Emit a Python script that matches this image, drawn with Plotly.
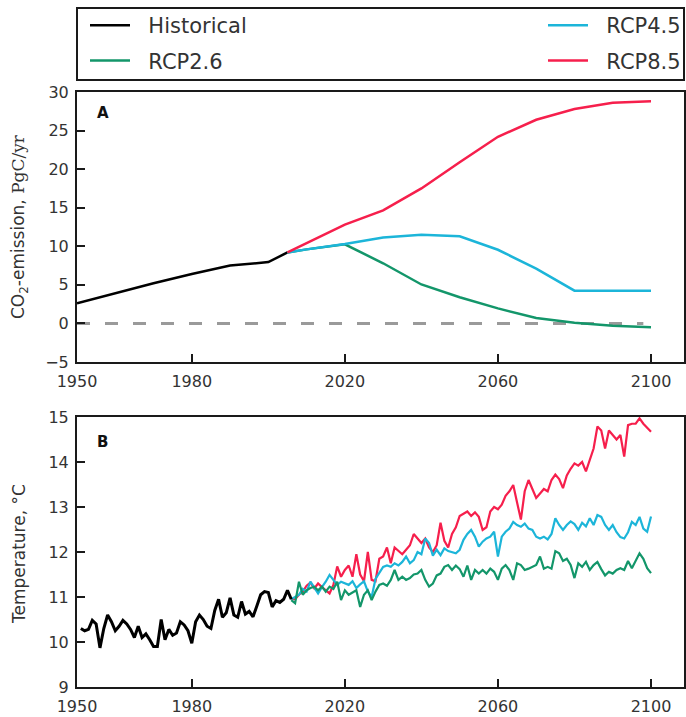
import plotly.graph_objects as go

# ---------------- Data ----------------
# Panel A: CO2 emissions (PgC/yr)
emis_hist_years = [1950, 1960, 1970, 1980, 1990, 2000, 2005]
emis_hist = [2.6, 3.9, 5.2, 6.4, 7.5, 7.95, 9.2]

emis_rcp_years = [2005, 2010, 2020, 2030, 2040, 2050, 2060, 2070, 2080, 2090, 2100]
emis_rcp26 = [9.2, 9.6, 10.25, 7.8, 5.05, 3.4, 1.95, 0.7, 0.1, -0.3, -0.5]
emis_rcp45 = [9.2, 9.6, 10.3, 11.15, 11.5, 11.3, 9.55, 7.1, 4.25, 4.25, 4.25]
emis_rcp85 = [9.2, 10.4, 12.8, 14.65, 17.5, 20.9, 24.2, 26.4, 27.8, 28.6, 28.8]

zero_years = [1950, 2098]
zero_vals = [0, 0]

# Panel B: temperature (deg C)
temp_hist_years = list(range(1951, 2007))
temp_hist = [
    10.30, 10.25, 10.28, 10.48, 10.40, 9.87, 10.30, 10.60, 10.45,          # 1951-1959
    10.25, 10.35, 10.48, 10.40, 10.28, 10.10, 10.35, 10.10, 10.18, 10.05,  # 1960-1969
    9.90, 9.90, 10.50, 10.05, 10.28, 10.15, 10.20, 10.45, 10.38, 10.25,    # 1970-1979
    9.97, 10.45, 10.60, 10.50, 10.35, 10.30, 10.70, 10.95, 10.55, 10.65,   # 1980-1989
    10.98, 10.60, 10.55, 10.90, 10.62, 10.68, 10.56, 10.80, 11.05, 11.12,  # 1990-1999
    11.10, 10.78, 10.92, 10.88, 10.95, 11.15, 10.95,                       # 2000-2006
]

temp_rcp_years = list(range(2006, 2101))
temp_rcp85 = [
    10.95, 10.95, 11.05, 11.12,                                            # 2006-2009
    11.25, 11.32, 11.19, 11.30, 11.22, 11.16, 11.08, 11.27, 11.68, 11.45,  # 2010s
    11.60, 11.70, 11.45, 11.95, 11.50, 11.35, 12.00, 11.38, 11.35, 11.85,  # 2020s
    11.90, 12.10, 11.75, 12.10, 12.02, 11.95, 12.05, 12.15, 12.40, 12.30,  # 2030s
    12.20, 12.30, 12.10, 12.00, 12.15, 12.65, 12.25, 12.10, 12.40, 12.55,  # 2040s
    12.80, 12.85, 12.90, 12.80, 12.88, 12.78, 12.49, 12.55, 12.90, 13.00,  # 2050s
    12.95, 13.05, 13.25, 13.35, 13.49, 13.10, 12.72, 13.35, 13.60, 13.40,  # 2060s
    13.20, 13.30, 13.40, 13.35, 13.60, 13.72, 13.62, 13.42, 13.70, 13.85,  # 2070s
    13.97, 13.92, 14.00, 13.79, 14.05, 14.30, 14.79, 14.70, 14.30, 14.70,  # 2080s
    14.60, 14.50, 14.60, 14.12, 14.82, 14.85, 14.85, 14.97, 14.85, 14.75,  # 2090s
    14.67,                                                                 # 2100
]
temp_rcp45 = [
    10.95, 11.01, 11.05, 11.18,
    11.12, 11.34, 11.22, 11.08, 11.22, 11.34, 11.49, 11.38, 11.27, 11.34,
    11.30, 11.27, 11.35, 11.20, 11.28, 11.35, 11.12, 11.00, 11.40, 11.55,
    11.67, 11.70, 11.67, 11.75, 11.70, 11.78, 11.90, 11.75, 11.82, 12.00,
    11.95, 12.30, 12.20, 11.92, 12.05, 11.93, 12.08, 12.02, 12.00, 11.97,
    12.05, 12.27, 12.40, 12.49, 12.34, 12.12, 12.23, 12.30, 12.34, 12.45,
    11.90, 12.34, 12.45, 12.52, 12.67, 12.60, 12.56, 12.63, 12.52, 12.49,
    12.34, 12.30, 12.34, 12.28, 12.40, 12.75, 12.60, 12.49, 12.60, 12.68,
    12.62, 12.49, 12.65, 12.57, 12.75, 12.60, 12.82, 12.78, 12.60, 12.49,
    12.60, 12.44, 12.33, 12.30, 12.44, 12.67, 12.60, 12.78, 12.52, 12.45,
    12.79,
]
temp_rcp26 = [
    10.93, 10.86, 11.34, 11.05,
    11.15, 11.20, 11.23, 11.15, 11.23, 11.12, 11.23, 11.18, 11.34, 10.93,
    11.15, 11.05, 11.10, 11.15, 10.78, 11.05, 11.15, 10.93, 11.12, 11.27,
    11.30, 11.25, 11.38, 11.60, 11.38, 11.45, 11.38, 11.42, 11.50, 11.52,
    11.60, 11.38, 11.23, 11.30, 11.48, 11.52, 11.67, 11.71, 11.60, 11.70,
    11.62, 11.45, 11.70, 11.38, 11.60, 11.52, 11.60, 11.52, 11.63, 11.56,
    11.38, 11.63, 11.71, 11.60, 11.38, 11.75, 11.71, 11.60, 11.63, 11.67,
    11.71, 11.90, 11.63, 11.67, 11.63, 12.02, 11.97, 11.80, 11.85, 11.71,
    11.42, 11.75, 11.67, 11.78, 11.60, 11.71, 11.78, 11.62, 11.48, 11.56,
    11.52, 11.60, 11.64, 11.60, 11.80, 11.64, 11.82, 11.97, 11.85, 11.64,
    11.53,
]

x_ticks = [1950, 1980, 2020, 2060, 2100]
emis_ticks = [-5, 0, 5, 10, 15, 20, 25, 30]
temp_ticks = [9, 10, 11, 12, 13, 14, 15]

# ---------------- Styling ----------------
C_HIST = "#000000"
C_26 = "#13966a"
C_45 = "#1cb5d9"
C_85 = "#f61f4c"
FONT = "DejaVu Sans"
W, H = 686, 717
SP = "\u00a0\u00a0"

def px_x(p):
    return p / W

def px_y(p):
    return 1 - p / H

fig = go.Figure()

# Panel A
fig.add_trace(go.Scatter(x=zero_years, y=zero_vals, mode="lines",
                         line=dict(color="#9a9a9a", width=3, dash="13px,15px"),
                         xaxis="x", yaxis="y", showlegend=False, hoverinfo="skip"))
fig.add_trace(go.Scatter(x=emis_hist_years, y=emis_hist, mode="lines", name=SP + "Historical",
                         line=dict(color=C_HIST, width=2.5), xaxis="x", yaxis="y",
                         legend="legend", legendgroup="h"))
fig.add_trace(go.Scatter(x=emis_rcp_years, y=emis_rcp26, mode="lines", name=SP + "RCP2.6",
                         line=dict(color=C_26, width=2.5), xaxis="x", yaxis="y",
                         legend="legend", legendgroup="r26"))
fig.add_trace(go.Scatter(x=emis_rcp_years, y=emis_rcp45, mode="lines", name=SP + "RCP4.5",
                         line=dict(color=C_45, width=2.5), xaxis="x", yaxis="y",
                         legend="legend2", legendgroup="r45"))
fig.add_trace(go.Scatter(x=emis_rcp_years, y=emis_rcp85, mode="lines", name=SP + "RCP8.5",
                         line=dict(color=C_85, width=2.5), xaxis="x", yaxis="y",
                         legend="legend2", legendgroup="r85"))

# Panel B
fig.add_trace(go.Scatter(x=temp_rcp_years, y=temp_rcp85, mode="lines",
                         line=dict(color=C_85, width=2.2), xaxis="x2", yaxis="y2",
                         showlegend=False))
fig.add_trace(go.Scatter(x=temp_rcp_years, y=temp_rcp45, mode="lines",
                         line=dict(color=C_45, width=2.2), xaxis="x2", yaxis="y2",
                         showlegend=False))
fig.add_trace(go.Scatter(x=temp_rcp_years, y=temp_rcp26, mode="lines",
                         line=dict(color=C_26, width=2.2), xaxis="x2", yaxis="y2",
                         showlegend=False))
fig.add_trace(go.Scatter(x=temp_hist_years, y=temp_hist, mode="lines",
                         line=dict(color=C_HIST, width=3), xaxis="x2", yaxis="y2",
                         showlegend=False))

x_dom = [px_x(77), px_x(684)]
x_range = [1950, 1950 + (684 - 77) / ((651 - 77) / 150)]

axis_common = dict(showline=True, linecolor="#1a1a1a", linewidth=2, mirror=True,
                   ticks="inside", ticklen=8, tickwidth=2, tickcolor="#1a1a1a",
                   showgrid=False, zeroline=False,
                   tickfont=dict(family=FONT, size=16, color="#333333"))

legend_common = dict(xanchor="left", yanchor="top", bgcolor="rgba(0,0,0,0)",
                     borderwidth=0, itemwidth=40, tracegroupgap=5,
                     font=dict(family=FONT, size=21, color="#333333"))

fig.update_layout(
    width=W, height=H,
    margin=dict(l=0, r=0, t=0, b=0, autoexpand=False),
    paper_bgcolor="white", plot_bgcolor="white",
    font=dict(family=FONT, color="#222222"),
    xaxis=dict(domain=x_dom, range=x_range, tickvals=x_ticks, anchor="y",
               ticklabelstandoff=4, **axis_common),
    yaxis=dict(domain=[px_y(362), px_y(92)], range=[-5, 30], tickvals=emis_ticks,
               anchor="x", ticklabelstandoff=3, **axis_common),
    xaxis2=dict(domain=x_dom, range=x_range, tickvals=x_ticks, anchor="y2",
                ticklabelstandoff=4, **axis_common),
    yaxis2=dict(domain=[px_y(687), px_y(417)], range=[9, 15], tickvals=temp_ticks,
                anchor="x2", ticklabelstandoff=3, **axis_common),
    legend=dict(x=px_x(85), y=px_y(5), **legend_common),
    legend2=dict(x=px_x(543), y=px_y(5), **legend_common),
    shapes=[dict(type="rect", xref="paper", yref="paper",
                 x0=px_x(77), x1=px_x(684), y0=px_y(80), y1=px_y(8),
                 line=dict(color="#1a1a1a", width=2), fillcolor="rgba(0,0,0,0)")],
    annotations=[
        dict(text="<b>A</b>", xref="paper", yref="paper", x=px_x(95), y=px_y(113),
             xanchor="left", yanchor="middle", showarrow=False,
             font=dict(family=FONT, size=15, color="#111111")),
        dict(text="<b>B</b>", xref="paper", yref="paper", x=px_x(95), y=px_y(442),
             xanchor="left", yanchor="middle", showarrow=False,
             font=dict(family=FONT, size=15, color="#111111")),
        dict(text="CO<sub>2</sub>-emission, <span style='font-family:DejaVu Serif'>PgC/yr</span>",
             xref="paper", yref="paper", x=px_x(19), y=px_y(227), textangle=-90,
             xanchor="center", yanchor="middle", showarrow=False,
             font=dict(family=FONT, size=17, color="#333333")),
        dict(text="Temperature, \u00b0C", xref="paper", yref="paper", x=px_x(19),
             y=px_y(554), textangle=-90, xanchor="center", yanchor="middle",
             showarrow=False, font=dict(family=FONT, size=17, color="#333333")),
    ],
)

fig.write_html("out.html", config={"displayModeBar": False},
               post_script="document.body.style.margin='0';")
